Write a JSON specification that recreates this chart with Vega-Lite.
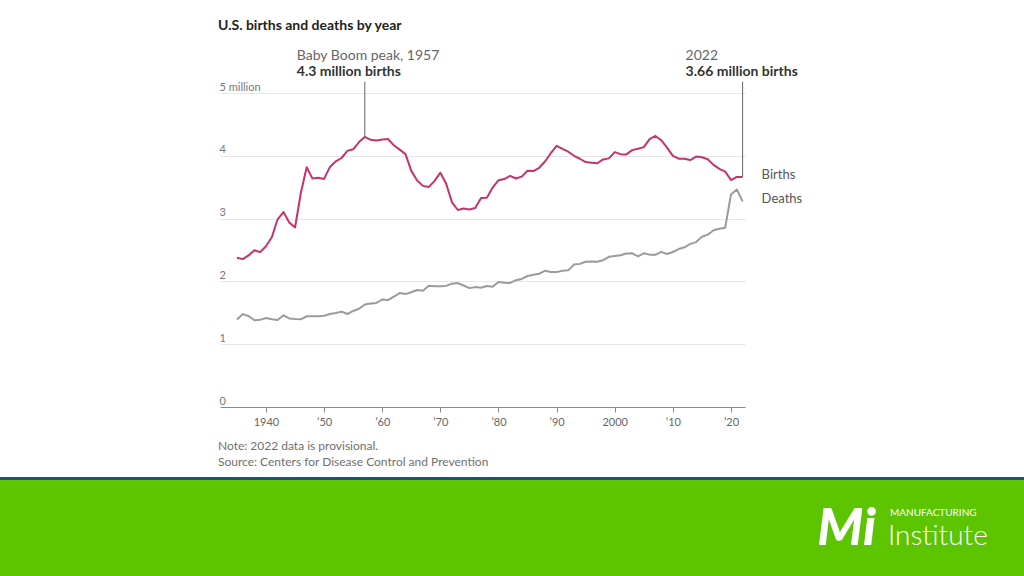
{
  "$schema": "https://vega.github.io/schema/vega-lite/v6.json",
  "width": 525,
  "height": 314,
  "autosize": {"type": "none"},
  "padding": {"left": 220, "top": 93, "right": 279, "bottom": 169},
  "background": "#ffffff",
  "config": {"view": {"stroke": null}, "font": "Lato", "text": {"font": "Lato"}},
  "datasets": {
    "series": [
      {"year":1935,"Births":2.377,"Deaths":1.393},{"year":1936,"Births":2.355,"Deaths":1.479},{"year":1937,"Births":2.413,"Deaths":1.450},{"year":1938,"Births":2.496,"Deaths":1.381},{"year":1939,"Births":2.466,"Deaths":1.388},
      {"year":1940,"Births":2.559,"Deaths":1.417},{"year":1941,"Births":2.703,"Deaths":1.398},{"year":1942,"Births":2.989,"Deaths":1.385},{"year":1943,"Births":3.104,"Deaths":1.460},{"year":1944,"Births":2.939,"Deaths":1.411},
      {"year":1945,"Births":2.858,"Deaths":1.402},{"year":1946,"Births":3.411,"Deaths":1.396},{"year":1947,"Births":3.817,"Deaths":1.445},{"year":1948,"Births":3.637,"Deaths":1.444},{"year":1949,"Births":3.649,"Deaths":1.444},
      {"year":1950,"Births":3.632,"Deaths":1.452},{"year":1951,"Births":3.823,"Deaths":1.482},{"year":1952,"Births":3.913,"Deaths":1.497},{"year":1953,"Births":3.965,"Deaths":1.518},{"year":1954,"Births":4.078,"Deaths":1.481},
      {"year":1955,"Births":4.104,"Deaths":1.529},{"year":1956,"Births":4.218,"Deaths":1.564},{"year":1957,"Births":4.300,"Deaths":1.633},{"year":1958,"Births":4.255,"Deaths":1.648},{"year":1959,"Births":4.245,"Deaths":1.657},
      {"year":1960,"Births":4.258,"Deaths":1.712},{"year":1961,"Births":4.268,"Deaths":1.702},{"year":1962,"Births":4.167,"Deaths":1.757},{"year":1963,"Births":4.098,"Deaths":1.814},{"year":1964,"Births":4.027,"Deaths":1.798},
      {"year":1965,"Births":3.760,"Deaths":1.828},{"year":1966,"Births":3.606,"Deaths":1.863},{"year":1967,"Births":3.521,"Deaths":1.851},{"year":1968,"Births":3.502,"Deaths":1.930},{"year":1969,"Births":3.600,"Deaths":1.922},
      {"year":1970,"Births":3.731,"Deaths":1.921},{"year":1971,"Births":3.556,"Deaths":1.928},{"year":1972,"Births":3.258,"Deaths":1.964},{"year":1973,"Births":3.137,"Deaths":1.973},{"year":1974,"Births":3.160,"Deaths":1.934},
      {"year":1975,"Births":3.144,"Deaths":1.893},{"year":1976,"Births":3.168,"Deaths":1.909},{"year":1977,"Births":3.327,"Deaths":1.900},{"year":1978,"Births":3.333,"Deaths":1.928},{"year":1979,"Births":3.494,"Deaths":1.914},
      {"year":1980,"Births":3.612,"Deaths":1.990},{"year":1981,"Births":3.629,"Deaths":1.978},{"year":1982,"Births":3.681,"Deaths":1.975},{"year":1983,"Births":3.639,"Deaths":2.019},{"year":1984,"Births":3.669,"Deaths":2.039},
      {"year":1985,"Births":3.761,"Deaths":2.086},{"year":1986,"Births":3.757,"Deaths":2.105},{"year":1987,"Births":3.809,"Deaths":2.123},{"year":1988,"Births":3.910,"Deaths":2.168},{"year":1989,"Births":4.041,"Deaths":2.150},
      {"year":1990,"Births":4.158,"Deaths":2.148},{"year":1991,"Births":4.111,"Deaths":2.170},{"year":1992,"Births":4.065,"Deaths":2.176},{"year":1993,"Births":4.000,"Deaths":2.269},{"year":1994,"Births":3.953,"Deaths":2.279},
      {"year":1995,"Births":3.900,"Deaths":2.312},{"year":1996,"Births":3.891,"Deaths":2.315},{"year":1997,"Births":3.881,"Deaths":2.314},{"year":1998,"Births":3.942,"Deaths":2.337},{"year":1999,"Births":3.959,"Deaths":2.391},
      {"year":2000,"Births":4.059,"Deaths":2.403},{"year":2001,"Births":4.026,"Deaths":2.416},{"year":2002,"Births":4.022,"Deaths":2.443},{"year":2003,"Births":4.090,"Deaths":2.448},{"year":2004,"Births":4.112,"Deaths":2.398},
      {"year":2005,"Births":4.138,"Deaths":2.448},{"year":2006,"Births":4.266,"Deaths":2.426},{"year":2007,"Births":4.316,"Deaths":2.424},{"year":2008,"Births":4.248,"Deaths":2.471},{"year":2009,"Births":4.131,"Deaths":2.437},
      {"year":2010,"Births":3.999,"Deaths":2.468},{"year":2011,"Births":3.954,"Deaths":2.515},{"year":2012,"Births":3.953,"Deaths":2.543},{"year":2013,"Births":3.932,"Deaths":2.597},{"year":2014,"Births":3.988,"Deaths":2.626},
      {"year":2015,"Births":3.978,"Deaths":2.712},{"year":2016,"Births":3.946,"Deaths":2.744},{"year":2017,"Births":3.856,"Deaths":2.814},{"year":2018,"Births":3.792,"Deaths":2.839},{"year":2019,"Births":3.748,"Deaths":2.855},
      {"year":2020,"Births":3.614,"Deaths":3.384},{"year":2021,"Births":3.664,"Deaths":3.464},{"year":2022,"Births":3.662,"Deaths":3.274}
    ],
    "annotations": [
      {"year": 1957, "value": 4.3, "line1": "Baby Boom peak, 1957", "line2": "4.3 million births"},
      {"year": 2022, "value": 3.662, "line1": "2022", "line2": "3.66 million births"}
    ]
  },
  "data": {"name": "series"},
  "layer": [
    {
      "data": {"values": [{"band": "banner"}]},
      "mark": {"type": "rect", "color": "#5cc400"},
      "encoding": {
        "x": {"datum": 1880, "type": "quantitative", "scale": {"domain": [1932.086, 2022.41], "nice": false, "zero": false}},
        "x2": {"datum": 2090},
        "y": {"datum": -1.162, "type": "quantitative", "scale": {"domain": [0, 5], "nice": false}},
        "y2": {"datum": -3.5}
      }
    },
    {
      "data": {"values": [{"band": "stripe"}]},
      "mark": {"type": "rect", "color": "#1f4e8c"},
      "encoding": {
        "x": {"datum": 1880, "type": "quantitative"},
        "x2": {"datum": 2090},
        "y": {"datum": -1.115, "type": "quantitative"},
        "y2": {"datum": -1.162}
      }
    },
    {
      "transform": [{"fold": ["Births", "Deaths"], "as": ["series", "value"]}],
      "mark": {"type": "line", "strokeWidth": 2, "strokeJoin": "round"},
      "encoding": {
        "x": {
          "field": "year", "type": "quantitative",
          "scale": {"domain": [1932.086, 2022.41], "nice": false, "zero": false},
          "axis": {
            "title": null, "values": [1940, 1950, 1960, 1970, 1980, 1990, 2000, 2010, 2020],
            "labelExpr": "datum.value == 1940 || datum.value == 2000 ? toString(datum.value) : '’' + slice(toString(datum.value), 2)",
            "grid": false, "domainColor": "#8a8a8a", "tickColor": "#8a8a8a", "tickSize": 5,
            "labelFontSize": 11, "labelColor": "#666666", "labelPadding": 4, "labelFont": "Lato"
          }
        },
        "y": {
          "field": "value", "type": "quantitative",
          "scale": {"domain": [0, 5], "nice": false},
          "axis": {
            "title": null, "values": [0, 1, 2, 3, 4, 5], "domain": false, "ticks": false, "tickSize": 0,
            "grid": true, "gridColor": "#e6e6e6", "format": "d",
            "labelExpr": "datum.value == 5 ? '5 million' : datum.label",
            "labelAlign": "left", "labelBaseline": "alphabetic", "labelOffset": -3, "labelPadding": 1,
            "labelFontSize": 11, "labelColor": "#777777", "labelFont": "Lato"
          }
        },
        "color": {"field": "series", "type": "nominal", "scale": {"domain": ["Births", "Deaths"], "range": ["#c4336b", "#9b9b9b"]}, "legend": null}
      }
    },
    {
      "transform": [{"fold": ["Births", "Deaths"], "as": ["series", "value"]}, {"filter": "datum.year == 2022"}],
      "mark": {"type": "text", "align": "left", "baseline": "middle", "dx": 19, "dy": -2, "fontSize": 13, "color": "#555555"},
      "encoding": {
        "x": {"field": "year", "type": "quantitative"},
        "y": {"field": "value", "type": "quantitative"},
        "text": {"field": "series"}
      }
    },
    {
      "data": {"name": "annotations"},
      "mark": {"type": "rule", "color": "#666666", "strokeWidth": 1},
      "encoding": {
        "x": {"field": "year", "type": "quantitative"},
        "y": {"field": "value", "type": "quantitative"},
        "y2": {"datum": 5.18}
      }
    },
    {
      "data": {"name": "annotations"},
      "transform": [{"filter": "datum.year == 1957"}],
      "layer": [
        {"mark": {"type": "text", "align": "left", "baseline": "alphabetic", "dx": -68, "dy": -22, "fontSize": 14, "color": "#666666"},
         "encoding": {"x": {"field": "year", "type": "quantitative"}, "y": {"datum": 5.18, "type": "quantitative"}, "text": {"field": "line1"}}},
        {"mark": {"type": "text", "align": "left", "baseline": "alphabetic", "dx": -68, "dy": -6, "fontSize": 14, "fontWeight": "bold", "color": "#333333"},
         "encoding": {"x": {"field": "year", "type": "quantitative"}, "y": {"datum": 5.18, "type": "quantitative"}, "text": {"field": "line2"}}}
      ]
    },
    {
      "data": {"name": "annotations"},
      "transform": [{"filter": "datum.year == 2022"}],
      "layer": [
        {"mark": {"type": "text", "align": "left", "baseline": "alphabetic", "dx": -57, "dy": -22, "fontSize": 14, "color": "#666666"},
         "encoding": {"x": {"field": "year", "type": "quantitative"}, "y": {"datum": 5.18, "type": "quantitative"}, "text": {"field": "line1"}}},
        {"mark": {"type": "text", "align": "left", "baseline": "alphabetic", "dx": -57, "dy": -6, "fontSize": 14, "fontWeight": "bold", "color": "#333333"},
         "encoding": {"x": {"field": "year", "type": "quantitative"}, "y": {"datum": 5.18, "type": "quantitative"}, "text": {"field": "line2"}}}
      ]
    },
    {
      "data": {"values": [{"label": "U.S. births and deaths by year"}]},
      "mark": {"type": "text", "align": "left", "baseline": "alphabetic", "dx": -2, "fontSize": 14, "fontWeight": "bold", "color": "#222222"},
      "encoding": {"x": {"datum": 1932.086, "type": "quantitative"}, "y": {"datum": 6.0, "type": "quantitative"}, "text": {"field": "label"}}
    },
    {
      "data": {"values": [{"label": ["Note: 2022 data is provisional.", "Source: Centers for Disease Control and Prevention"]}]},
      "mark": {"type": "text", "align": "left", "baseline": "alphabetic", "dx": -2, "fontSize": 12, "lineHeight": 16, "color": "#707070"},
      "encoding": {
        "x": {"datum": 1932.086, "type": "quantitative"},
        "y": {"datum": -0.685, "type": "quantitative"},
        "text": {"field": "label"}
      }
    },
    {
      "data": {"values": [{"label": "Mi"}]},
      "mark": {"type": "text", "align": "center", "baseline": "alphabetic", "fontSize": 52, "fontWeight": 900, "fontStyle": "italic", "color": "#ffffff"},
      "encoding": {
        "x": {"datum": 2039.9, "type": "quantitative"},
        "y": {"datum": -2.2, "type": "quantitative"},
        "text": {"field": "label"}
      }
    },
    {
      "data": {"values": [{"label": "MANUFACTURING"}]},
      "mark": {"type": "text", "align": "left", "baseline": "alphabetic", "fontSize": 10, "color": "#ffffff"},
      "encoding": {
        "x": {"datum": 2047.35, "type": "quantitative"},
        "y": {"datum": -1.736, "type": "quantitative"},
        "text": {"field": "label"}
      }
    },
    {
      "data": {"values": [{"label": "Institute"}]},
      "mark": {"type": "text", "align": "left", "baseline": "alphabetic", "fontSize": 28, "fontWeight": 300, "color": "#ffffff"},
      "encoding": {
        "x": {"datum": 2047.0, "type": "quantitative"},
        "y": {"datum": -2.2, "type": "quantitative"},
        "text": {"field": "label"}
      }
    }
  ]
}
